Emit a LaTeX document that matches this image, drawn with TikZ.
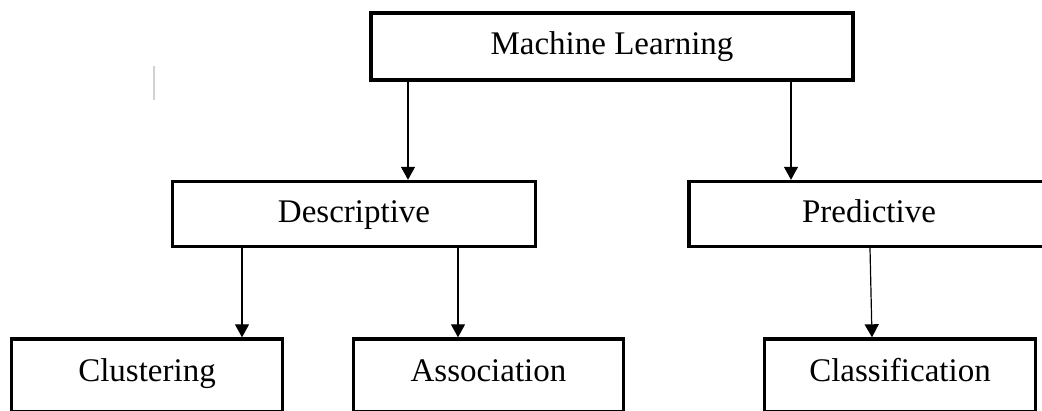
\documentclass[tikz,border=0pt]{standalone}
\usepackage{fontspec}
\setmainfont{Liberation Serif}
\usetikzlibrary{arrows.meta}
\tikzset{
  box/.style={draw=black, line width=3.4pt, fill=white, rectangle, inner sep=0pt,
    font=\fontsize{33}{40}\selectfont, text height=23pt, text depth=7pt},
  arr/.style={draw=black, line width=1.2pt, -{Triangle[length=13pt,width=14pt]}},
}
\begin{document}
\begin{tikzpicture}[x=1pt,y=-1pt]
\useasboundingbox (0,0) rectangle (1042,410);
\node[box, minimum width=482pt, minimum height=67pt] (ml) at (612,46.5) {Machine Learning};
\node[box, minimum width=363pt, minimum height=65pt] (desc) at (354,214) {Descriptive};
\node[box, minimum width=360pt, minimum height=65pt] (pred) at (869,214) {Predictive};
\node[box, minimum width=271pt, minimum height=73pt, text depth=12pt] (clus) at (147,375.5) {Clustering};
\node[box, minimum width=270pt, minimum height=73pt, text depth=12pt] (assoc) at (488.5,375.5) {Association};
\node[box, minimum width=271pt, minimum height=73pt, text depth=12pt] (class) at (900,375.5) {Classification};
\coordinate (xa) at (408,0);
\coordinate (xb) at (791,0);
\coordinate (xc) at (242,0);
\coordinate (xd) at (458,0);
\coordinate (xe) at (870,0);
\coordinate (xf) at (872,0);
\draw[arr] (ml.south -| xa) -- (desc.north -| xa);
\draw[arr] (ml.south -| xb) -- (pred.north -| xb);
\draw[arr] (desc.south -| xc) -- (clus.north -| xc);
\draw[arr] (desc.south -| xd) -- (assoc.north -| xd);
\draw[arr] (pred.south -| xe) -- (class.north -| xf);
\coordinate (g1) at (154,66);
\coordinate (g2) at (154,100);
\draw[black!18, line width=1.4pt] (g1) -- (g2);
\end{tikzpicture}
\end{document}
